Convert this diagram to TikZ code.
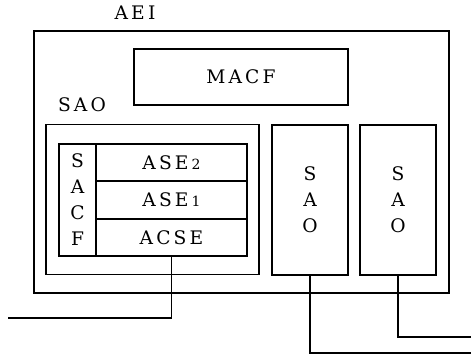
\documentclass[tikz,border=0pt]{standalone}
\usepackage{fontspec}
\setmainfont{DejaVu Serif}[LetterSpace=17]
\usetikzlibrary{positioning}
\newcommand{\lbl}{\fontsize{14}{19.5}\selectfont}
\newcommand{\dig}[1]{{\fontsize{10.5}{10}\selectfont #1}}
\tikzset{
  caixa/.style={rectangle, draw=black, line width=0.9pt, inner sep=0pt,
                align=center, font=\lbl},
  rotulo/.style={inner sep=0pt, font=\lbl},
  linha/.style={line width=0.9pt},
  tam/.style 2 args={minimum width=#1*0.75pt, minimum height=#2*0.75pt},
}

\begin{document}
\begin{tikzpicture}[x=0.75pt, y=-0.75pt]
  \useasboundingbox (0,0) rectangle (471,361);
  % entidade de aplicacao
  \node[caixa, tam={415}{262}] (aei) at (241.5,162) {};
  \node[rotulo] (aeilbl) at (135,12.5) {AEI};
  \node[caixa, tam={214}{56}] (macf) at (241,77) {MACF};
  % SAO com SACF e ASEs
  \node[rotulo] (saolbl) at (82,105) {SAO};
  \node[caixa, tam={213}{150}] (sao1) at (152.5,199.5) {};
  \node[caixa, tam={37}{112}] (sacf) at (77.5,200) {S\\A\\C\\F};
  \node[caixa, tam={151}{37}] (ase2) at (171.5,162.5) {ASE\,\dig{2}};
  \node[caixa, tam={151}{38}] (ase1) at (171.5,200) {ASE\,\dig{1}};
  \node[caixa, tam={151}{37}] (acse) at (171.5,237.5) {ACSE};
  % outros SAOs
  \node[caixa, tam={76}{150}] (sao2) at (310,200) {S\\A\\O};
  \node[caixa, tam={76}{150}] (sao3) at (398,200) {S\\A\\O};
  % ligacoes
  \coordinate (fimA) at (8,318);
  \coordinate (fimB) at (471,353);
  \coordinate (fimC) at (471,337);
  \draw[linha] (acse.south) |- (fimA);
  \draw[linha] (sao2.south) |- (fimB);
  \draw[linha] (sao3.south) |- (fimC);
\end{tikzpicture}
\end{document}
